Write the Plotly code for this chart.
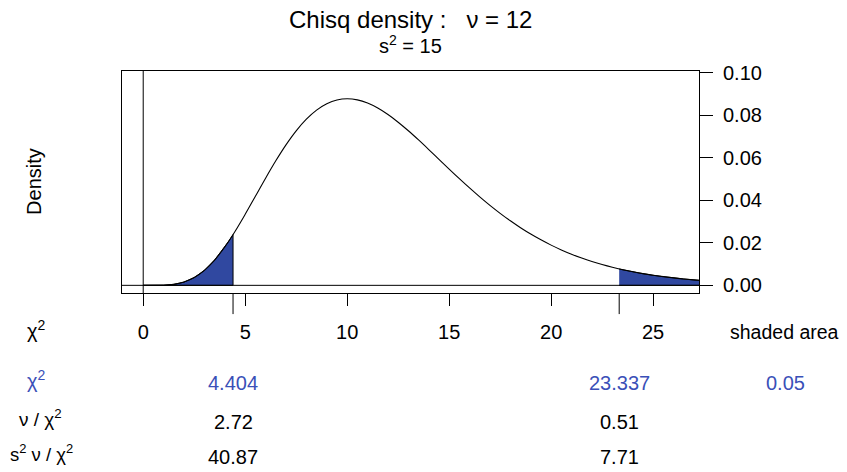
import plotly.graph_objects as go

# Chi-square density (nu = 12)
x_curve = [0, 0.5, 1, 1.5, 2, 2.5, 3, 3.5, 4, 4.5, 5, 5.5, 6, 6.5, 7, 7.5, 8, 8.5, 9, 9.5,
           10, 10.5, 11, 11.5, 12, 12.5, 13, 13.5, 14, 14.5, 15, 15.5, 16, 16.5, 17, 17.5,
           18, 18.5, 19, 19.5, 20, 20.5, 21, 21.5, 22, 22.5, 23, 23.5, 24, 24.5, 25, 25.5,
           26, 26.5, 27, 27.5]
y_curve = [0.0, 0.000003, 0.000079, 0.000467, 0.001533, 0.003643, 0.00706, 0.011884,
           0.018045, 0.025324, 0.033401, 0.041893, 0.050409, 0.058579, 0.066085, 0.072668,
           0.078147, 0.082409, 0.085413, 0.087168, 0.087733, 0.087204, 0.085701, 0.083356,
           0.080311, 0.076711, 0.072685, 0.068364, 0.063858, 0.059271, 0.054688, 0.050178,
           0.045802, 0.041603, 0.037617, 0.033865, 0.030364, 0.027117, 0.024133, 0.021401,
           0.018917, 0.016669, 0.014644, 0.012828, 0.011208, 0.009766, 0.00849, 0.007362,
           0.00637, 0.0055, 0.004739, 0.004075, 0.003497, 0.002995, 0.002561, 0.002186]

# lower tail
x_low = [0, 0.5, 1, 1.5, 2, 2.5, 3, 3.5, 4, 4.2, 4.404]
y_low = [0.0, 0.000003, 0.000079, 0.000467, 0.001533, 0.003643, 0.00706, 0.011884, 0.018045, 0.020838, 0.02385]
# upper tail
x_up = [23.337, 23.5, 24, 24.5, 25, 25.5, 26, 26.5, 27, 27.5]
y_up = [0.007716, 0.007362, 0.00637, 0.0055, 0.004739, 0.004075, 0.003497, 0.002995, 0.002561, 0.002186]

nu = 12
s2 = 15
crit_vals = [4.404, 23.337]
crit_labels = ["4.404", "23.337"]
nu_over = ["2.72", "0.51"]
s2nu_over = ["40.87", "7.71"]
shaded_area = "0.05"
x_ticks = [0, 5, 10, 15, 20, 25]
y_ticks = [0.00, 0.02, 0.04, 0.06, 0.08, 0.10]

FILL = "rgb(48,72,160)"
BLUE = "rgb(58,80,184)"
FONT = "Liberation Sans, Arial, sans-serif"

# page body adds an 8px offset; figure is sized so the plot lands where the reference has it
OFF = 8
W, H = 847 - OFF, 472 - OFF
PL, PT, PW, PH = 122 - OFF, 71 - OFF, 577.3, 222.3
PB = PT + PH  # bottom of plot in figure px


def py(Y):
    return (PB - (Y - OFF)) / PH


def px(X):
    return ((X - OFF) - PL) / PW


fig = go.Figure()

fig.add_trace(go.Scatter(x=x_low + [x_low[-1], 0], y=y_low + [0, 0], fill="toself",
                         fillcolor=FILL, line=dict(color="black", width=1),
                         mode="lines", hoverinfo="skip", showlegend=False))
fig.add_trace(go.Scatter(x=x_up + [x_up[-1], x_up[0]], y=y_up + [0, 0], fill="toself",
                         fillcolor=FILL, line=dict(color="black", width=1),
                         mode="lines", hoverinfo="skip", showlegend=False))
fig.add_trace(go.Scatter(x=x_curve, y=y_curve, mode="lines",
                         line=dict(color="black", width=1.1, shape="spline", smoothing=1),
                         hoverinfo="skip", showlegend=False))

XMIN, XMAX = -1.04, 27.25
YMIN, YMAX = -0.0036, 0.1008

fig.add_shape(type="line", xref="x", yref="y", x0=XMIN, x1=XMAX, y0=0, y1=0,
              line=dict(color="black", width=1))
fig.add_shape(type="line", xref="x", yref="paper", x0=0, x1=0, y0=0, y1=1,
              line=dict(color="black", width=1))
for cv in crit_vals:
    fig.add_shape(type="line", xref="x", yref="paper", x0=cv, x1=cv, y0=0, y1=-0.095,
                  line=dict(color="black", width=1))

ann = []


def txt(x, y, t, color="black", size=20, xref="paper", **kw):
    ann.append(dict(x=x, y=y, xref=xref, yref="paper", text=t, showarrow=False,
                    font=dict(size=size, color=color, family=FONT),
                    xanchor="center", yanchor="middle", **kw))


txt(px(36), py(330), "χ<sup>2</sup>")
txt(px(785), py(332), "shaded area", size=19.5)
txt(px(36), py(380), "χ<sup>2</sup>", BLUE)
for t, xv in zip(crit_labels, crit_vals):
    txt(xv, py(383), t, BLUE, xref="x")
txt(px(786), py(383), shaded_area, BLUE)
txt(px(40), py(418), "ν / χ<sup>2</sup>", size=19)
for t, xv in zip(nu_over, crit_vals):
    txt(xv, py(422), t, xref="x")
txt(px(41), py(454), "s<sup>2</sup> ν / χ<sup>2</sup>", size=18.5)
for t, xv in zip(s2nu_over, crit_vals):
    txt(xv, py(458), t, xref="x")

txt(0.5, py(19), f"Chisq density :   ν = {nu}", size=24)
txt(0.5, py(44), f"s<sup>2</sup> = {s2}")
txt(px(34), py(182), "Density", textangle=-90)

fig.update_layout(
    width=W, height=H,
    margin=dict(l=PL, r=W - PL - PW, t=PT, b=H - PB, pad=0),
    paper_bgcolor="white", plot_bgcolor="white",
    font=dict(family=FONT, size=20, color="black"),
    annotations=ann,
    xaxis=dict(range=[XMIN, XMAX], tickvals=x_ticks, ticktext=[str(v) for v in x_ticks],
               ticks="outside", ticklen=12, tickcolor="black", tickwidth=1,
               showline=True, linecolor="black", linewidth=1, mirror=True,
               showgrid=False, zeroline=False, tickfont=dict(size=20),
               ticklabelstandoff=9),
    yaxis=dict(range=[YMIN, YMAX], side="right", tickvals=y_ticks,
               ticktext=[f"{v:.2f}" for v in y_ticks],
               ticks="outside", ticklen=13, tickcolor="black", tickwidth=1,
               showline=True, linecolor="black", linewidth=1, mirror=True,
               showgrid=False, zeroline=False, tickfont=dict(size=20),
               ticklabelstandoff=6),
)

fig.write_html("out.html")
